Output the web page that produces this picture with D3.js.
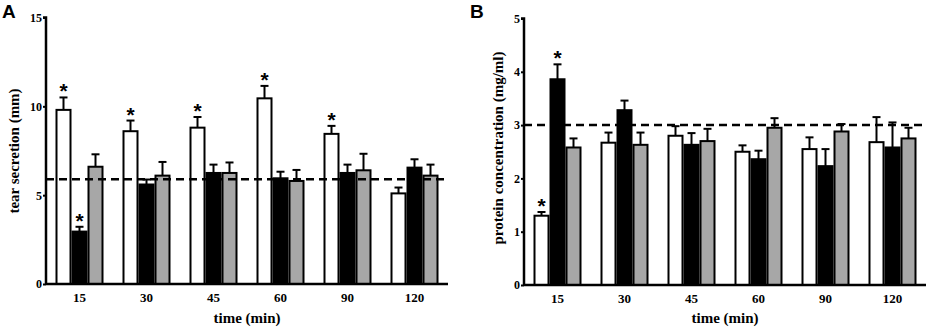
<!DOCTYPE html>
<html>
<head>
<meta charset="utf-8">
<script src="https://cdn.jsdelivr.net/npm/d3@7"></script>
<style>
  body { margin: 0; background: #fff; }
  text { font-family: "Liberation Serif", "Times New Roman", serif; font-weight: bold; }
</style>
</head>
<body>
<svg id="canvas"></svg>
<script>
let times = ['15', '30', '45', '60', '90', '120']
let groups = ['white', 'black', 'gray']

// panel A - tear secretion (mm)
let tearMean = [
  [9.8, 2.95, 6.6],
  [8.6, 5.6, 6.1],
  [8.8, 6.25, 6.25],
  [10.45, 5.95, 5.8],
  [8.45, 6.25, 6.4],
  [5.1, 6.55, 6.1]
]
let tearErr = [
  [10.5, 3.22, 7.3],
  [9.2, 5.88, 6.87],
  [9.4, 6.72, 6.84],
  [11.15, 6.32, 6.42],
  [8.9, 6.72, 7.33],
  [5.43, 7.02, 6.72]
]
let tearStars = [[0, 0], [0, 1], [1, 0], [2, 0], [3, 0], [4, 0]]
let tearTicks = [0, 5, 10, 15]
let tearBaseline = 5.9

// panel B - protein concentration (mg/ml)
let protMean = [
  [1.3, 3.86, 2.58],
  [2.67, 3.28, 2.63],
  [2.8, 2.63, 2.7],
  [2.5, 2.36, 2.95],
  [2.55, 2.23, 2.88],
  [2.68, 2.58, 2.75]
]
let protErr = [
  [1.37, 4.14, 2.75],
  [2.86, 3.46, 2.86],
  [2.98, 2.85, 2.93],
  [2.62, 2.52, 3.13],
  [2.77, 2.55, 3.02],
  [3.15, 3.05, 2.95]
]
let protStars = [[0, 0], [0, 1]]
let protTicks = [0, 1, 2, 3, 4, 5]
let protBaseline = 3.0

let fills = { white: '#ffffff', black: '#000000', gray: '#a7a7a7' }

let width = 934
let height = 328

let canvas = d3.select('#canvas')
canvas.attr('width', width).attr('height', height)

let drawPanel = (opts) => {
  let g = canvas.append('g')

  let xScale = d3.scaleBand()
                 .domain(times)
                 .range([opts.left, opts.right])

  let subScale = d3.scaleBand()
                   .domain(groups)
                   .range([-24, 24])

  let yScale = d3.scaleLinear()
                 .domain([0, opts.max])
                 .range([opts.bottom, opts.top])

  let rows = []
  times.forEach((t, i) => {
    groups.forEach((grp, j) => {
      rows.push({ time: t, group: grp, mean: opts.mean[i][j], err: opts.err[i][j], i: i, j: j })
    })
  })

  let cx = (d) => xScale(d.time) + xScale.bandwidth() / 2 + subScale(d.group)

  // error bars (upper only)
  g.selectAll('.err')
   .data(rows)
   .enter()
   .append('line')
   .attr('x1', (d) => cx(d) + subScale.bandwidth() / 2)
   .attr('x2', (d) => cx(d) + subScale.bandwidth() / 2)
   .attr('y1', (d) => yScale(d.mean))
   .attr('y2', (d) => yScale(d.err))
   .attr('stroke', '#000')
   .attr('stroke-width', 2)

  g.selectAll('.cap')
   .data(rows)
   .enter()
   .append('line')
   .attr('x1', (d) => cx(d) + subScale.bandwidth() / 2 - 4)
   .attr('x2', (d) => cx(d) + subScale.bandwidth() / 2 + 4)
   .attr('y1', (d) => yScale(d.err))
   .attr('y2', (d) => yScale(d.err))
   .attr('stroke', '#000')
   .attr('stroke-width', 2)

  g.selectAll('rect')
   .data(rows)
   .enter()
   .append('rect')
   .attr('x', (d) => cx(d) + 1)
   .attr('width', subScale.bandwidth() - 2)
   .attr('y', (d) => yScale(d.mean))
   .attr('height', (d) => yScale(0) - yScale(d.mean))
   .attr('fill', (d) => fills[d.group])
   .attr('stroke', '#000')
   .attr('stroke-width', 2)

  // control level
  g.append('line')
   .attr('x1', opts.left)
   .attr('x2', opts.right)
   .attr('y1', yScale(opts.baseline))
   .attr('y2', yScale(opts.baseline))
   .attr('stroke', '#000')
   .attr('stroke-width', 2.5)
   .attr('stroke-dasharray', '8,5')

  // significance stars
  g.selectAll('.star')
   .data(opts.stars)
   .enter()
   .append('text')
   .attr('x', (d) => xScale(times[d[0]]) + xScale.bandwidth() / 2 + subScale(groups[d[1]]) + subScale.bandwidth() / 2)
   .attr('y', (d) => yScale(opts.err[d[0]][d[1]]) + 1)
   .attr('text-anchor', 'middle')
   .style('font-family', 'Liberation Sans, Arial, sans-serif')
   .style('font-size', '21px')
   .text('*')

  // axes
  let yAxis = d3.axisLeft(yScale)
                .tickValues(opts.ticks)
                .tickSize(3)
                .tickFormat(d3.format('d'))

  let ya = g.append('g')
            .attr('transform', `translate(${opts.left}, 0)`)
            .call(yAxis)
  ya.select('.domain').attr('stroke-width', 2.5).attr('d', `M-3,${opts.top}H0V${opts.bottom}`)
  ya.selectAll('.tick line').attr('stroke-width', 2)
  ya.selectAll('.tick text').style('font-size', '12px').attr('x', -4)

  let xAxis = d3.axisBottom(xScale).tickSize(0).tickPadding(9)
  let xa = g.append('g')
            .attr('transform', `translate(0, ${opts.bottom})`)
            .call(xAxis)
  xa.select('.domain').attr('stroke-width', 2.5).attr('d', `M${opts.left},0H${opts.right}`)
  xa.selectAll('.tick text').style('font-size', '13px')

  g.append('text')
   .attr('x', (opts.left + opts.right) / 2)
   .attr('y', 323)
   .attr('text-anchor', 'middle')
   .style('font-size', '15px')
   .text('time (min)')

  g.append('text')
   .attr('transform', `translate(${opts.titleX}, ${opts.titleY}) rotate(-90)`)
   .attr('text-anchor', 'middle')
   .style('font-size', '15px')
   .text(opts.title)

  g.append('text')
   .attr('x', opts.letterX)
   .attr('y', 18)
   .style('font-family', 'Liberation Sans, Arial, sans-serif')
   .style('font-size', '19px')
   .text(opts.letter)
}

drawPanel({
  left: 46, right: 448, top: 17.5, bottom: 284, max: 15,
  mean: tearMean, err: tearErr, stars: tearStars, ticks: tearTicks, baseline: tearBaseline,
  title: 'tear secretion (mm)', titleX: 19, titleY: 151, letter: 'A', letterX: 2
})

drawPanel({
  left: 524, right: 926, top: 18.5, bottom: 285, max: 5,
  mean: protMean, err: protErr, stars: protStars, ticks: protTicks, baseline: protBaseline,
  title: 'protein concentration (mg/ml)', titleX: 503, titleY: 148, letter: 'B', letterX: 470
})
</script>
</body>
</html>
